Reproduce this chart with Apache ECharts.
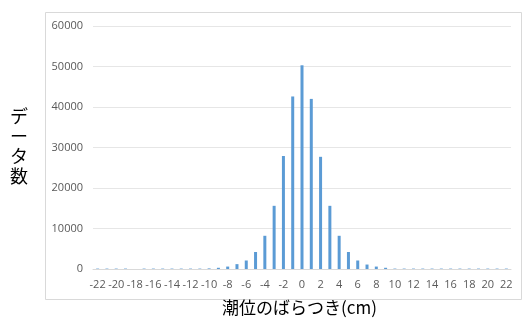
<!DOCTYPE html>
<html><head><meta charset="utf-8">
<script src="https://cdn.jsdelivr.net/npm/echarts@6/dist/echarts.min.js"></script>
<style>html,body{margin:0;padding:0;background:#fff}#c{width:523px;height:320px}</style>
</head><body><div id="c"></div>
<script>
const categories = [];
for (let v = -22; v <= 22; v++) categories.push(String(v));
const counts = [
  100, 100, 100, 100, 0, 100, 100, 100, 100, 100, 100, 100, 150,
  300, 600, 1200, 2100, 4200, 8200, 15600, 27900, 42600,
  50300,
  42000, 27700, 15600, 8200, 4200, 2100, 1100, 600, 300,
  100, 100, 100, 100, 100, 100, 100, 100, 100, 100, 100, 100, 100
];
const yTicks = { min: 0, max: 60000, interval: 10000 };
const xTitle = '潮位のばらつき(cm)';
const yTitle = 'データ数';

const chart = echarts.init(document.getElementById('c'));
chart.setOption({
  animation: false,
  backgroundColor: '#fff',
  grid: { left: 93, right: 12, top: 26, bottom: 51, containLabel: false },
  graphic: [
    { type: 'rect', shape: { x: 45.5, y: 12.5, width: 476, height: 287 },
      style: { fill: 'none', stroke: '#d9d9d9', lineWidth: 1 }, z: -1 },
    { type: 'text', left: 10, top: 106,
      style: { text: yTitle.split('').join('\n'), fill: '#000', font: '18px "Noto Sans CJK JP"', lineHeight: 20 } },
    { type: 'text', left: 222, top: 299,
      style: { text: xTitle, fill: '#000', font: '17px "Noto Sans CJK JP"' } }
  ],
  xAxis: {
    type: 'category', data: categories,
    axisLine: { show: true, lineStyle: { color: '#d9d9d9' } },
    axisTick: { show: false },
    axisLabel: { interval: 1, color: '#595959', fontSize: 11, margin: 10, fontFamily: 'Open Sans' }
  },
  yAxis: {
    type: 'value', min: yTicks.min, max: yTicks.max, interval: yTicks.interval,
    axisLine: { show: false }, axisTick: { show: false },
    splitLine: { lineStyle: { color: '#e6e6e6' } },
    axisLabel: { color: '#595959', fontSize: 11, margin: 10, fontFamily: 'Open Sans', formatter: v => String(v) }
  },
  series: [{
    type: 'bar', data: counts, barWidth: 3,
    itemStyle: { color: '#5b9bd5' }
  }]
});
</script></body></html>
